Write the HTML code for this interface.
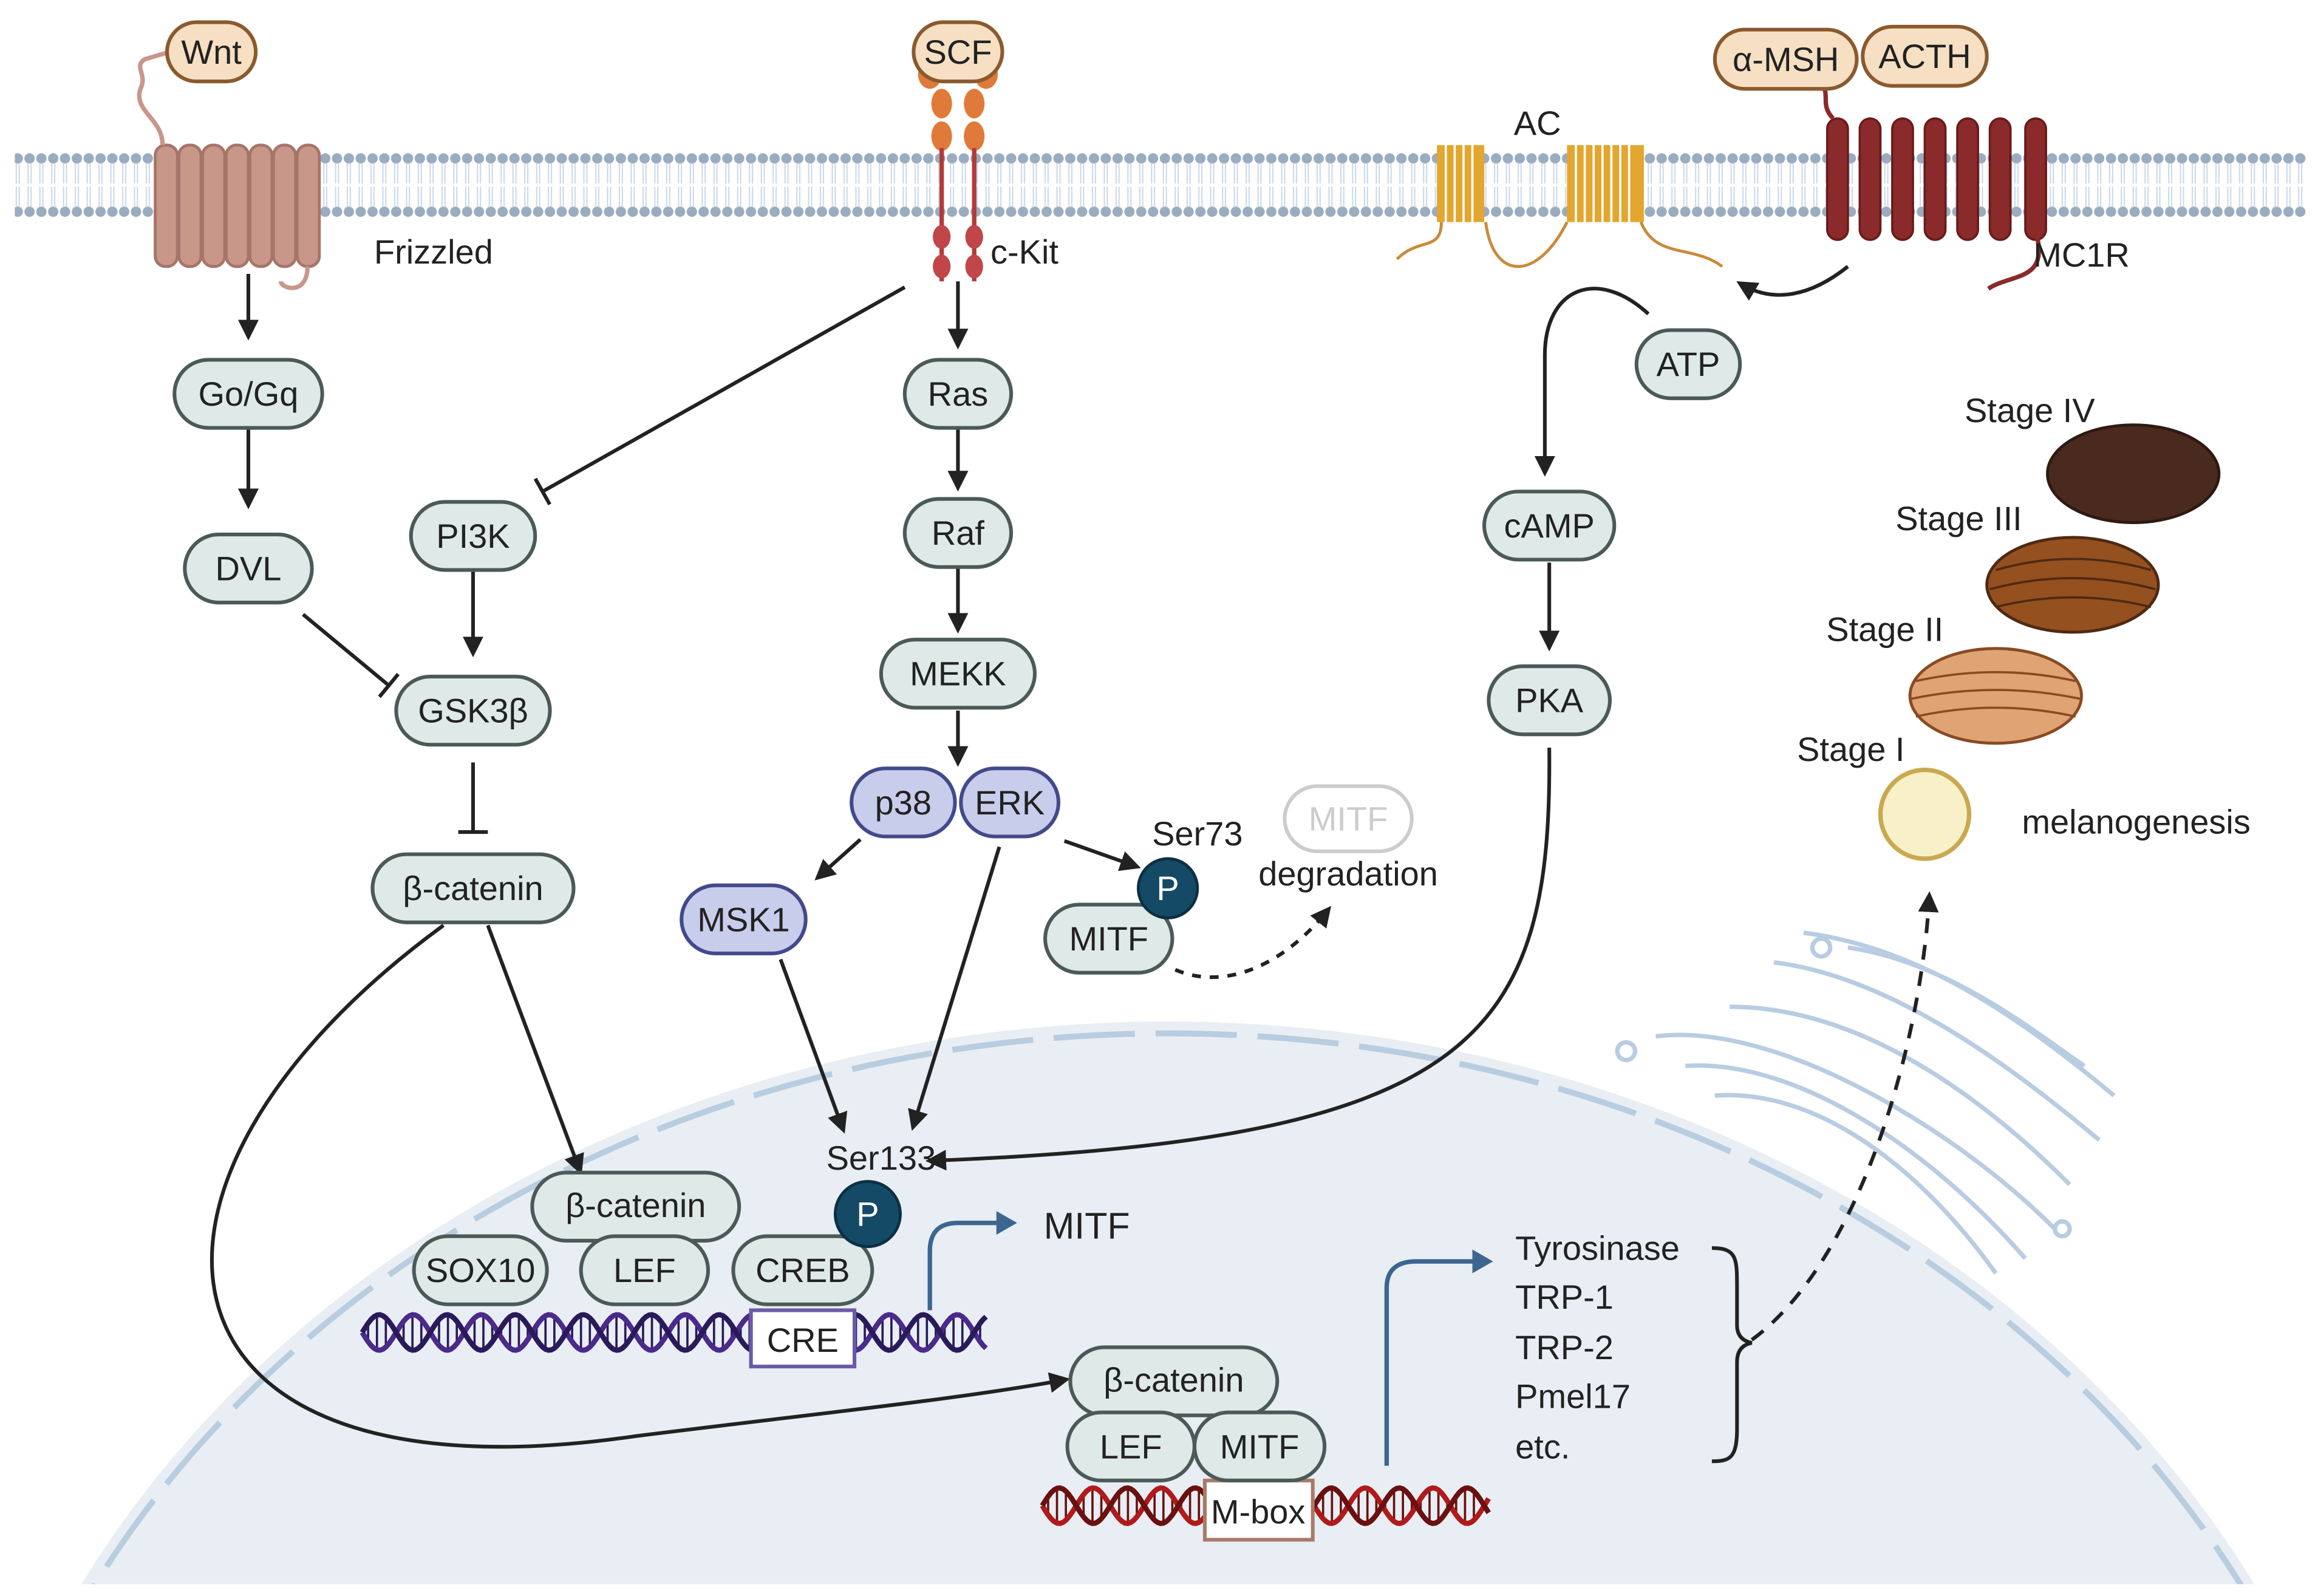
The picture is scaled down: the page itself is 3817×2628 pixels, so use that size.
<!DOCTYPE html>
<html><head><meta charset="utf-8"><style>
html,body{margin:0;padding:0;background:#fff;width:3817px;height:2628px;overflow:hidden;position:relative}
svg{display:block;position:absolute;left:0;top:0}
text{font-family:"Liberation Sans",sans-serif;fill:#222}
.n{fill:#dfe9e7;stroke:#4b5a58;stroke-width:2.5}
.b{fill:#c9cdec;stroke:#434a8a;stroke-width:2.5}
.l{fill:#f6dfc2;stroke:#8a5a2e;stroke-width:2.5}
.t{font-size:23px;text-anchor:middle;dominant-baseline:central}
.a{stroke:#222;stroke-width:2.5;fill:none}
</style></head><body>
<svg id="s" width="3817" height="2628" viewBox="0 0 1568 1078" preserveAspectRatio="none">
<defs>
<marker id="ar2" markerWidth="14" markerHeight="14" refX="10" refY="7" orient="auto" markerUnits="userSpaceOnUse"><path d="M0,0L14,7L0,14z" fill="#222"/></marker>
<marker id="ab" markerWidth="14" markerHeight="16" refX="6" refY="8" orient="auto" markerUnits="userSpaceOnUse"><path d="M0,0L14,8L0,16z" fill="#3c6690"/></marker>
<marker id="tb" markerWidth="4" markerHeight="20" refX="2" refY="10" orient="auto" markerUnits="userSpaceOnUse"><path d="M2,0V20" stroke="#222" stroke-width="2.5"/></marker>
<pattern id="mem" width="8" height="50" patternUnits="userSpaceOnUse"><circle cx="4" cy="7" r="3.5" fill="#9aacbf"/><circle cx="4" cy="43" r="3.5" fill="#9aacbf"/><path d="M3,10V24M5,10V24M3,26V40M5,26V40" stroke="#c9d6e6" stroke-width="0.8"/></pattern>
</defs>
<rect width="1568" height="1078" fill="#fff"/>
<ellipse cx="790" cy="1400" rx="830" ry="710" fill="#e8eef3"/>
<ellipse cx="790" cy="1400" rx="822" ry="702" fill="none" stroke="#b9cde0" stroke-width="4" stroke-dasharray="55 14"/>
<rect x="0" y="1070" width="1568" height="8" fill="#fff"/>
<rect x="10" y="100" width="1550" height="50" fill="url(#mem)"/>
<g fill="none" stroke="#b8cce2" stroke-width="3">
<path d="M1120,700 C1200,690 1320,760 1390,830"/><path d="M1140,720 C1210,715 1300,770 1370,850"/>
<path d="M1170,680 C1250,680 1330,730 1400,800"/><path d="M1200,650 C1280,660 1360,720 1420,770"/>
<path d="M1220,630 C1300,640 1370,690 1430,740"/><path d="M1250,640 C1320,650 1380,700 1410,720"/>
<path d="M1160,740 C1230,735 1300,790 1350,860"/>
<circle cx="1232" cy="640" r="6"/><circle cx="1395" cy="830" r="5"/><circle cx="1100" cy="710" r="6"/>
</g>
<g fill="#c9978a" stroke="#a6756a" stroke-width="2">
<rect x="105" y="98" width="15" height="82" rx="7"/><rect x="121" y="98" width="15" height="82" rx="7"/><rect x="137" y="98" width="15" height="82" rx="7"/><rect x="153" y="98" width="15" height="82" rx="7"/><rect x="169" y="98" width="15" height="82" rx="7"/><rect x="185" y="98" width="15" height="82" rx="7"/><rect x="201" y="98" width="15" height="82" rx="7"/>
</g>
<path d="M110,98 C110,80 90,75 95,60 C100,50 90,45 98,40 L115,35" fill="none" stroke="#c9978a" stroke-width="3"/>
<path d="M208,180 C208,200 190,195 190,190" fill="none" stroke="#c9978a" stroke-width="3"/>
<rect x="113" y="15" width="60" height="40" rx="20" class="l"/><text x="143" y="35" class="t">Wnt</text>
<text x="253" y="170" class="t" style="text-anchor:start">Frizzled</text>
<g fill="#e07a3a"><ellipse cx="629" cy="50" rx="8" ry="10"/><ellipse cx="667" cy="50" rx="8" ry="10"/><ellipse cx="637" cy="70" rx="7" ry="10"/><ellipse cx="659" cy="70" rx="7" ry="10"/><ellipse cx="637" cy="92" rx="7" ry="10"/><ellipse cx="659" cy="92" rx="7" ry="10"/></g>
<path d="M637,100V190M659,100V190" stroke="#b33a3a" stroke-width="3"/>
<g fill="#c0464a"><ellipse cx="637" cy="160" rx="6" ry="8"/><ellipse cx="659" cy="160" rx="6" ry="8"/><ellipse cx="637" cy="180" rx="6" ry="8"/><ellipse cx="659" cy="180" rx="6" ry="8"/></g>
<rect x="618" y="15" width="60" height="40" rx="20" class="l"/><text x="648" y="35" class="t">SCF</text>
<text x="670" y="170" class="t" style="text-anchor:start">c-Kit</text>
<g fill="#e3a62e"><rect x="972" y="98" width="32" height="52"/><rect x="1060" y="98" width="52" height="52"/></g>
<g stroke="#fff" stroke-width="1.5"><path d="M978,98V150M984,98V150M990,98V150M996,98V150M1066,98V150M1072,98V150M1078,98V150M1084,98V150M1090,98V150M1096,98V150M1102,98V150"/></g>
<path d="M945,175 C960,160 975,170 975,150 M1005,150 C1010,190 1040,190 1060,150 M1110,150 C1120,175 1145,165 1165,180" fill="none" stroke="#c98a3a" stroke-width="2"/>
<text x="1040" y="83" class="t">AC</text>
<g fill="#8b2a2a" stroke="#6a1b1b" stroke-width="1.5"><rect x="1236" y="80" width="14" height="82" rx="7"/><rect x="1258" y="80" width="14" height="82" rx="7"/><rect x="1280" y="80" width="14" height="82" rx="7"/><rect x="1302" y="80" width="14" height="82" rx="7"/><rect x="1324" y="80" width="14" height="82" rx="7"/><rect x="1346" y="80" width="14" height="82" rx="7"/><rect x="1370" y="80" width="14" height="82" rx="7"/></g>
<path d="M1378,160 C1385,190 1360,185 1345,195" fill="none" stroke="#8b2a2a" stroke-width="3"/>
<path d="M1240,80 C1230,70 1240,62 1230,56" fill="none" stroke="#8b2a2a" stroke-width="3"/>
<rect x="1160" y="20" width="96" height="40" rx="20" class="l"/><text x="1208" y="40" class="t">α-MSH</text>
<rect x="1260" y="18" width="84" height="40" rx="20" class="l"/><text x="1302" y="38" class="t">ACTH</text>
<text x="1408" y="172" class="t">MC1R</text>
<path class="a" d="M168,185V226" marker-end="url(#ar2)"/>
<path class="a" d="M168,290V340" marker-end="url(#ar2)"/>
<path class="a" d="M648,190V232" marker-end="url(#ar2)"/>
<path class="a" d="M648,290V328" marker-end="url(#ar2)"/>
<path class="a" d="M648,384V424" marker-end="url(#ar2)"/>
<path class="a" d="M648,480V514" marker-end="url(#ar2)"/>
<path class="a" d="M320,385V440" marker-end="url(#ar2)"/>
<path class="a" d="M1048,380V436" marker-end="url(#ar2)"/>
<path class="a" d="M612,194L367,332" marker-end="url(#tb)"/>
<path class="a" d="M205,415L263,463" marker-end="url(#tb)"/>
<path class="a" d="M320,515V562" marker-end="url(#tb)"/>
<path class="a" d="M1250,180 C1225,200 1200,205 1178,192" marker-end="url(#ar2)"/>
<path class="a" d="M1115,212 C1080,180 1045,195 1045,240 V318" marker-end="url(#ar2)"/>
<path class="a" d="M582,567L554,592" marker-end="url(#ar2)"/>
<path class="a" d="M720,568L768,585" marker-end="url(#ar2)"/>
<path class="a" d="M528,648L570,762" marker-end="url(#ar2)"/>
<path class="a" d="M676,572L618,760" marker-end="url(#ar2)"/>
<path class="a" d="M1048,505 C1050,700 1000,770 630,784" marker-end="url(#ar2)"/>
<path class="a" d="M330,625L392,790" marker-end="url(#ar2)"/>
<path class="a" d="M300,625 C60,800 90,1020 430,970 C550,955 650,945 720,932" marker-end="url(#ar2)"/>
<path class="a" d="M795,655 C830,670 870,650 898,615" stroke-dasharray="6 6" marker-end="url(#ar2)"/>
<path class="a" d="M1185,905 C1260,850 1300,700 1305,606" stroke-dasharray="10 8" marker-end="url(#ar2)"/>
<rect x="118" y="243" width="100" height="46" rx="23" class="n"/><text x="168" y="266" class="t">Go/Gq</text>
<rect x="612" y="243" width="72" height="46" rx="23" class="n"/><text x="648" y="266" class="t">Ras</text>
<rect x="125" y="361" width="86" height="46" rx="23" class="n"/><text x="168" y="384" class="t">DVL</text>
<rect x="278" y="339" width="84" height="46" rx="23" class="n"/><text x="320" y="362" class="t">PI3K</text>
<rect x="612" y="337" width="72" height="46" rx="23" class="n"/><text x="648" y="360" class="t">Raf</text>
<rect x="596" y="432" width="104" height="46" rx="23" class="n"/><text x="648" y="455" class="t">MEKK</text>
<rect x="268" y="457" width="104" height="46" rx="23" class="n"/><text x="320" y="480" class="t">GSK3β</text>
<rect x="1004" y="332" width="88" height="46" rx="23" class="n"/><text x="1048" y="355" class="t">cAMP</text>
<rect x="1007" y="450" width="82" height="46" rx="23" class="n"/><text x="1048" y="473" class="t">PKA</text>
<rect x="1107" y="223" width="70" height="46" rx="23" class="n"/><text x="1142" y="246" class="t">ATP</text>
<rect x="252" y="577" width="136" height="46" rx="23" class="n"/><text x="320" y="600" class="t">β-catenin</text>
<rect x="576" y="519" width="70" height="46" rx="23" class="b"/><text x="611" y="542" class="t">p38</text>
<rect x="650" y="519" width="66" height="46" rx="23" class="b"/><text x="683" y="542" class="t">ERK</text>
<rect x="461" y="598" width="84" height="46" rx="23" class="b"/><text x="503" y="621" class="t">MSK1</text>
<rect x="707" y="611" width="86" height="46" rx="23" class="n"/><text x="750" y="634" class="t">MITF</text>
<circle cx="790" cy="600" r="20" fill="#154a66" stroke="#0c3044" stroke-width="2"/><text x="790" y="600" class="t" style="fill:#fff">P</text>
<text x="810" y="563" class="t">Ser73</text>
<rect x="869" y="531" width="86" height="44" rx="22" fill="#fff" stroke="#ccc" stroke-width="2.5"/><text x="912" y="553" class="t" style="fill:#ccc">MITF</text>
<text x="912" y="590" class="t">degradation</text>
<text x="596" y="782" class="t">Ser133</text>
<g id="dna1"></g>
<rect x="508" y="885" width="70" height="38" fill="#fff" stroke="#6a5aa8" stroke-width="2.5"/><text x="543" y="905" class="t">CRE</text>
<rect x="360" y="792" width="140" height="46" rx="23" class="n"/><text x="430" y="814" class="t">β-catenin</text>
<rect x="280" y="835" width="90" height="46" rx="23" class="n"/><text x="325" y="858" class="t">SOX10</text>
<rect x="393" y="835" width="86" height="46" rx="23" class="n"/><text x="436" y="858" class="t">LEF</text>
<rect x="496" y="835" width="94" height="46" rx="23" class="n"/><text x="543" y="858" class="t">CREB</text>
<circle cx="587" cy="820" r="22" fill="#154a66" stroke="#0c3044" stroke-width="2"/><text x="587" y="820" class="t" style="fill:#fff">P</text>
<path d="M629,885V845 Q629,826 648,826H680" fill="none" stroke="#3c6690" stroke-width="3" marker-end="url(#ab)"/>
<text x="706" y="828" class="t" style="text-anchor:start;font-size:25px">MITF</text>
<g id="dna2"></g>
<rect x="815" y="1000" width="73" height="40" fill="#fff" stroke="#a87a6a" stroke-width="2.5"/><text x="851" y="1021" class="t">M-box</text>
<rect x="724" y="910" width="140" height="46" rx="23" class="n"/><text x="794" y="932" class="t">β-catenin</text>
<rect x="722" y="954" width="86" height="46" rx="23" class="n"/><text x="765" y="977" class="t">LEF</text>
<rect x="808" y="954" width="88" height="46" rx="23" class="n"/><text x="852" y="977" class="t">MITF</text>
<path d="M938,990V870 Q938,852 958,852H1002" fill="none" stroke="#3c6690" stroke-width="3" marker-end="url(#ab)"/>
<text x="1025" y="843" class="t" style="text-anchor:start">Tyrosinase</text>
<text x="1025" y="876" class="t" style="text-anchor:start">TRP-1</text>
<text x="1025" y="910" class="t" style="text-anchor:start">TRP-2</text>
<text x="1025" y="943" class="t" style="text-anchor:start">Pmel17</text>
<text x="1025" y="977" class="t" style="text-anchor:start">etc.</text>
<path d="M1158,843 C1175,843 1175,850 1175,870 V895 Q1175,905 1185,907 Q1175,909 1175,920 V965 C1175,985 1170,987 1158,987" fill="none" stroke="#222" stroke-width="2.5"/>
<ellipse cx="1443" cy="320" rx="58" ry="33" fill="#4a2a1e" stroke="#2e1a12" stroke-width="2"/>
<text x="1373" y="277" class="t">Stage IV</text>
<ellipse cx="1402" cy="395" rx="58" ry="32" fill="#94501f" stroke="#4e2a12" stroke-width="2"/>
<g fill="none" stroke="#4e2a12" stroke-width="1.5"><path d="M1350,385 Q1402,370 1455,385M1346,398 Q1402,383 1458,398M1350,410 Q1402,397 1455,410"/></g>
<text x="1325" y="350" class="t">Stage III</text>
<ellipse cx="1350" cy="470" rx="58" ry="32" fill="#dfa374" stroke="#8a4a22" stroke-width="2"/>
<g fill="none" stroke="#8a4a22" stroke-width="1.5"><path d="M1296,460 Q1350,448 1404,460M1293,472 Q1350,460 1407,472M1296,484 Q1350,472 1404,484"/></g>
<text x="1275" y="425" class="t">Stage II</text>
<circle cx="1302" cy="550" r="30" fill="#f8f0c8" stroke="#c9a950" stroke-width="3"/>
<text x="1252" y="506" class="t">Stage I</text>
<text x="1445" y="555" class="t">melanogenesis</text>
</svg>
<script>
function dna(g,x0,x1,y,c1,c2){
 var a='',b='',r='',A=12,P=46;
 for(var x=x0;x<=x1;x+=2){var ph=(x-x0)/P*2*Math.PI;a+=(x==x0?'M':'L')+x+','+(y+A*Math.sin(ph));b+=(x==x0?'M':'L')+x+','+(y-A*Math.sin(ph));}
 for(var x=x0+4;x<=x1;x+=6){var ph=(x-x0)/P*2*Math.PI;r+='M'+x+','+(y+A*Math.sin(ph))+'V'+(y-A*Math.sin(ph));}
 document.getElementById(g).innerHTML='<path d="'+r+'" stroke="'+c2+'" stroke-width="1.5"/><path d="'+a+'" fill="none" stroke="'+c1+'" stroke-width="3.5"/><path d="'+b+'" fill="none" stroke="'+c2+'" stroke-width="3.5"/>';
}
dna('dna1',245,668,900,'#4a2a8a','#2a1a5a');
dna('dna2',705,1008,1017,'#b01a1a','#6a1010');
</script>
</body></html>
